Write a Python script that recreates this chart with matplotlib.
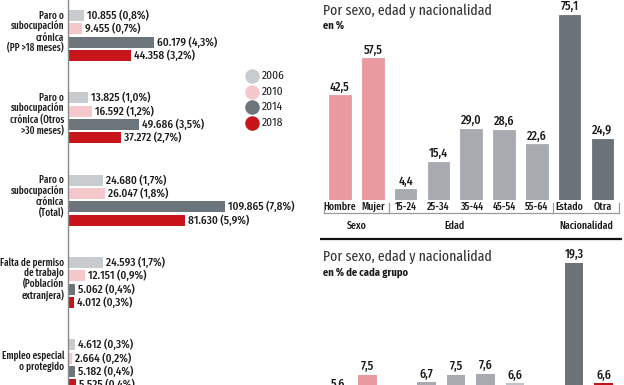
import matplotlib
matplotlib.use("Agg")
import matplotlib.pyplot as plt
from matplotlib import font_manager as fm
import numpy as np

# ---------------- data ----------------
years = ["2006", "2010", "2014", "2018"]
year_colors = ["#c9ccce", "#f5c9cc", "#6c757b", "#c8141b"]

left_categories = [
    "Paro o\nsubocupación\ncrónica\n(PP >18 meses)",
    "Paro o\nsubocupación\ncrónica (Otros\n>30 meses)",
    "Paro o\nsubocupación\ncrónica\n(Total)",
    "Falta de permiso\nde trabajo\n(Población\nextranjera)",
    "Empleo especial\no protegido",
]
v2006 = [10855, 13825, 24680, 24593, 4612]
v2010 = [9455, 16592, 26047, 12151, 2664]
v2014 = [60179, 49686, 109865, 5062, 5182]
v2018 = [44358, 37272, 81630, 4012, 5525]
p2006 = [0.8, 1.0, 1.7, 1.7, 0.3]
p2010 = [0.7, 1.2, 1.8, 0.9, 0.2]
p2014 = [4.3, 3.5, 7.8, 0.4, 0.4]
p2018 = [3.2, 2.7, 5.9, 0.3, 0.4]

top_labels = ["Hombre", "Mujer", "15-24", "25-34", "35-44", "45-54", "55-64", "Estado", "Otra"]
top_values = [42.5, 57.5, 4.4, 15.4, 29.0, 28.6, 22.6, 75.1, 24.9]
top_colors = ["#e99aa0", "#e99aa0", "#a7abaf", "#a7abaf", "#a7abaf", "#a7abaf", "#a7abaf", "#6b7379", "#6b7379"]
groups = [("Sexo", -0.5, 1.5, 0.5), ("Edad", 1.5, 6.5, 3.5), ("Nacionalidad", 6.5, 8.5, 7.5)]

bottom_labels = ["Hombre", "Mujer", "15-24", "25-34", "35-44", "45-54", "55-64", "", "Estado", "Otra"]
bottom_values = [5.6, 7.5, 4.0, 6.7, 7.5, 7.6, 6.6, np.nan, 19.3, 6.6]
bottom_colors = ["#e99aa0", "#e99aa0", "#a7abaf", "#a7abaf", "#a7abaf", "#a7abaf", "#bfc3c6", "#ffffff", "#6b7379", "#c0141a"]

# ---------------- fonts ----------------
installed = set(f.name for f in fm.fontManager.ttflist)
def pick(prefs):
    return next((p for p in prefs if p in installed), "DejaVu Sans")
body = pick(["Fira Sans Condensed", "PT Sans Narrow", "Roboto Condensed", "Asap Condensed",
             "Encode Sans Condensed", "Archivo Narrow", "Barlow Semi Condensed", "Roboto"])
narrow = pick(["Fira Sans Extra Condensed", "Roboto Condensed", "Asap Condensed",
               "Encode Sans Condensed", "Barlow Condensed", "PT Sans Narrow", "Archivo Narrow",
               "Fira Sans Condensed"])
BODY = [body, "DejaVu Sans"]
NARROW = [narrow, "DejaVu Sans"]
plt.rcParams["font.family"] = BODY

# ---------------- figure ----------------
W, H = 624, 385
DPI = 100
fig = plt.figure(figsize=(W / DPI, H / DPI), dpi=DPI)

def px2pt(p):
    return p * 72.0 / DPI

def fig_rect(x0, y0, x1, y1):
    return [x0 / W, 1 - y1 / H, (x1 - x0) / W, (y1 - y0) / H]

TXT = "#1a1a1a"
NUMW = 500

# ---------------- left panel ----------------
axl = fig.add_axes(fig_rect(68, 0, 300, 385))
px_per_unit = 1.43 / 1000.0
axl.set_xlim(0, 232 / px_per_unit)
gsp = 82.3
axl.set_ylim((385 - 35.5) / gsp, -35.5 / gsp)
off = 13.3 / gsp
bh = 11 / gsp
series = [(v2006, p2006), (v2010, p2010), (v2014, p2014), (v2018, p2018)]
ypos = np.arange(len(left_categories))
for j, (vals, pcts) in enumerate(series):
    yy = ypos + (j - 1.5) * off
    axl.barh(yy, vals, height=bh, color=year_colors[j], edgecolor="none")
    for y, v, p in zip(yy, vals, pcts):
        lab = f"{v:,}".replace(",", ".") + " (" + f"{p:.1f}".replace(".", ",") + "%)"
        axl.annotate(lab, (v, y), xytext=(px2pt(3), 0), textcoords="offset points",
                     ha="left", va="center", fontsize=px2pt(11.2), color=TXT,
                     fontweight=NUMW, annotation_clip=False)
for i, cat in enumerate(left_categories):
    axl.annotate(cat, (0, i - 0.04), xycoords=("axes fraction", "data"),
                 xytext=(-px2pt(4), 0), textcoords="offset points",
                 ha="right", va="center", fontsize=px2pt(10), color=TXT,
                 family=NARROW, fontweight=NUMW,
                 linespacing=1.0, annotation_clip=False)
for s in ["top", "right", "bottom"]:
    axl.spines[s].set_visible(False)
axl.spines["left"].set_color("#8a8a8a")
axl.spines["left"].set_linewidth(1.0)
axl.set_xticks([])
axl.set_yticks([])
axl.patch.set_alpha(0)

# ---------------- right top panel ----------------
axt = fig.add_axes(fig_rect(318, 0, 624, 200))
sp = 32.8
axt.set_xlim((318 - 340) / sp, (624 - 340) / sp)
axt.set_ylim(0, 200 / 2.463)
xt = np.arange(len(top_labels))
axt.bar(xt, top_values, width=0.66, color=top_colors, edgecolor=top_colors, linewidth=0.6)
for x, v in zip(xt, top_values):
    axt.annotate(f"{v:.1f}".replace(".", ","), (x, v), xytext=(0, px2pt(2)),
                 textcoords="offset points", ha="center", va="bottom",
                 fontsize=px2pt(12), color=TXT, fontweight=NUMW, annotation_clip=False)
axt.set_xticks(xt)
axt.set_xticklabels(top_labels, fontsize=px2pt(10.8), color=TXT, family=NARROW,
                    fontweight=NUMW)
axt.tick_params(axis="x", length=0, pad=px2pt(1.5))
axt.set_yticks([])
for s in axt.spines.values():
    s.set_visible(False)
axt.patch.set_alpha(0)
tr = axt.get_xaxis_transform()
ahp = 200.0
yb = -13 / ahp
yt = -3 / ahp
for name, a, b, c in groups:
    axt.plot([a, b], [yb, yb], transform=tr, color="#9a9a9a", lw=0.9, clip_on=False)
    axt.text(c, -26 / ahp, name, transform=tr, ha="center", va="center",
             fontsize=px2pt(10.8), color=TXT, family=NARROW, fontweight=NUMW,
             clip_on=False)
for xb in [-0.5, 1.5, 6.5, 8.5]:
    axt.plot([xb, xb], [yt, yb], transform=tr, color="#9a9a9a", lw=0.9, clip_on=False)

# ---------------- right bottom panel (cropped) ----------------
axb = fig.add_axes(fig_rect(318, 240, 624, 446))
sp2 = 29.5
axb.set_xlim((318 - 338) / sp2, (624 - 338) / sp2)
axb.set_ylim(0, 206 / 9.49)
xb_ = np.arange(len(bottom_labels))
axb.bar(xb_, bottom_values, width=0.64, color=bottom_colors, edgecolor="none")
for x, v in zip(xb_, bottom_values):
    if np.isnan(v):
        continue
    axb.annotate(f"{v:.1f}".replace(".", ","), (x, v), xytext=(0, px2pt(2)),
                 textcoords="offset points", ha="center", va="bottom",
                 fontsize=px2pt(12), color=TXT, fontweight=NUMW, annotation_clip=False)
axb.set_xticks([])
axb.set_yticks([])
for s in axb.spines.values():
    s.set_visible(False)
axb.patch.set_alpha(0)

# ---------------- overlay (titles, legend, rule) ----------------
ov = fig.add_axes([0, 0, 1, 1])
ov.set_xlim(0, W)
ov.set_ylim(H, 0)
ov.axis("off")
ov.patch.set_alpha(0)

ov.text(323, 11, "Por sexo, edad y nacionalidad", ha="left", va="center",
        fontsize=px2pt(15), fontweight="normal", color="#333333", family=NARROW)
ov.text(323, 25.5, "en %", ha="left", va="center", fontsize=px2pt(10.5),
        fontweight="bold", color=TXT)
ov.text(323, 257, "Por sexo, edad y nacionalidad", ha="left", va="center",
        fontsize=px2pt(15), fontweight="normal", color="#333333", family=NARROW)
ov.text(323, 273, "en % de cada grupo", ha="left", va="center", fontsize=px2pt(10.5),
        fontweight="bold", color=TXT)
ov.plot([320, 622], [238.5, 238.5], color="#111111", lw=1.6, solid_capstyle="butt")

for k, (yr, col) in enumerate(zip(years, year_colors)):
    yy = 76 + k * 15.6
    ov.plot([252], [yy], marker="o", markersize=px2pt(14.5), color=col, mec="none")
    ov.text(262, yy, yr, ha="left", va="center", fontsize=px2pt(11.5), color=TXT,
            family=BODY, fontweight="normal")

fig.savefig("out.png", dpi=DPI)
